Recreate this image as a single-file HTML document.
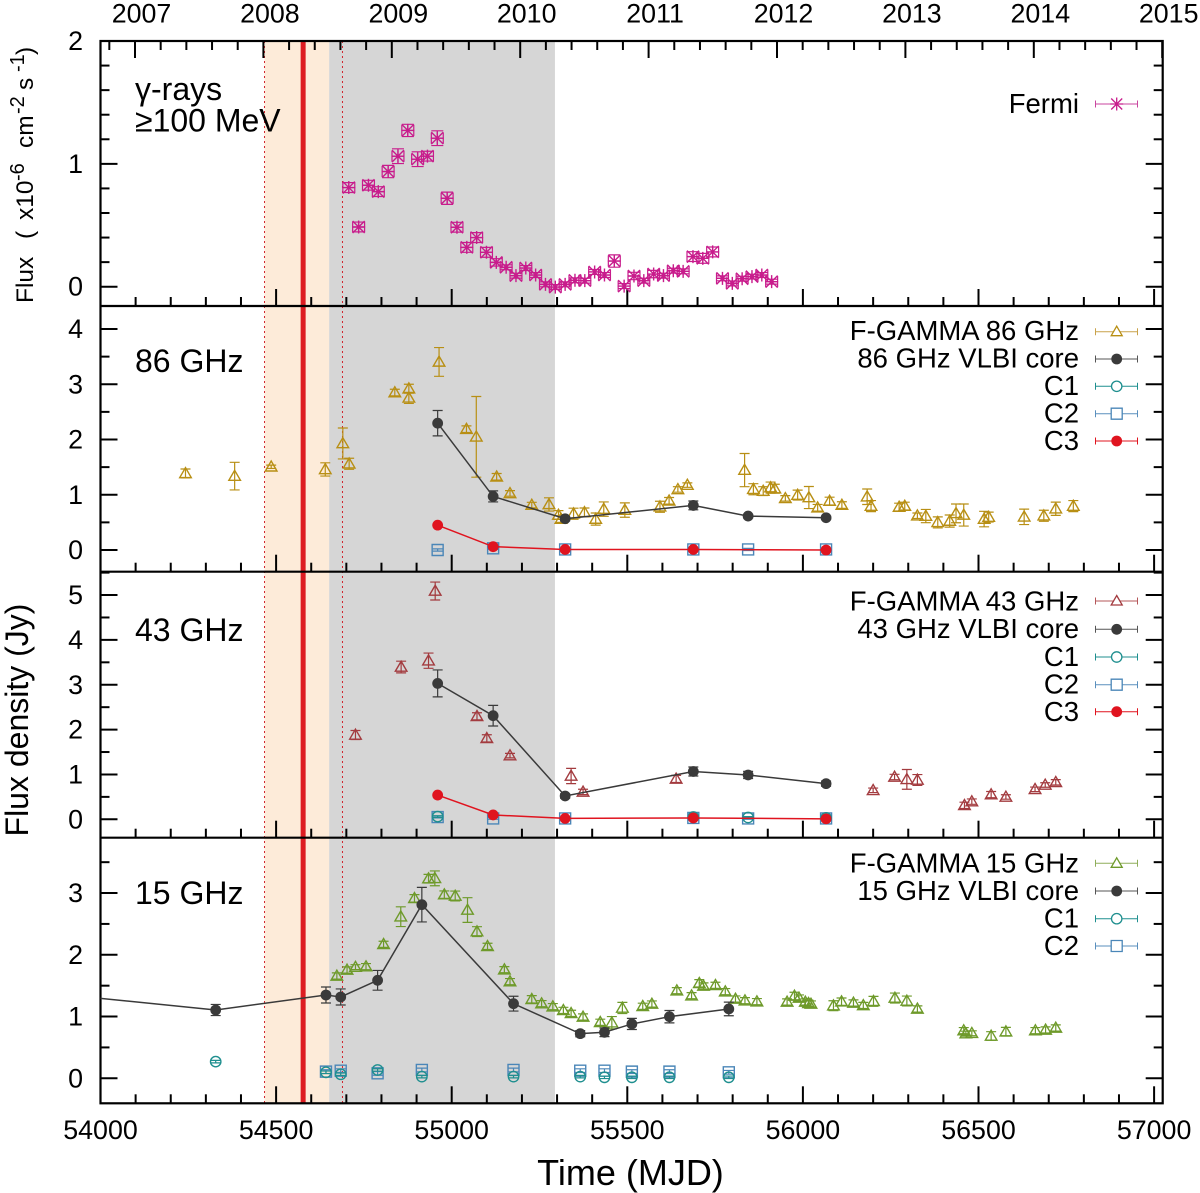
<!DOCTYPE html>
<html lang="en">
<head>
<meta charset="utf-8">
<title>Multi-band flux light curves</title>
<style>
html,body{margin:0;padding:0;background:#fff;}
svg{display:block;}
text{font-family:"Liberation Sans",sans-serif;fill:#000;}
.tick{font-size:26.8px;}
.lg{font-size:27.5px;text-anchor:end;}
.pl{font-size:32px;}
</style>
</head>
<body>
<svg id="chart" xmlns="http://www.w3.org/2000/svg" width="1200" height="1193" viewBox="0 0 1200 1193">
<rect x="0" y="0" width="1200" height="1193" fill="#fff"/>
<g id="layer-bands"></g>
<g id="layer-axes"></g>
<g id="layer-data"></g>

<text transform="translate(33 303) rotate(-90)" font-size="24.5"><tspan x="0" y="0">Flux</tspan><tspan x="64" y="0">(</tspan><tspan x="83" y="0">x10</tspan><tspan x="122" y="-9" font-size="20">-6</tspan><tspan x="155" y="0">cm</tspan><tspan x="189" y="-9" font-size="20">-2</tspan><tspan x="213" y="0">s</tspan><tspan x="231" y="-9" font-size="20">-1</tspan><tspan x="248" y="0">)</tspan></text>
<text transform="translate(28 720) rotate(-90)" font-size="32" text-anchor="middle">Flux density (Jy)</text>
<text x="630.5" y="1185" font-size="36" text-anchor="middle">Time (MJD)</text>

<g>
<text class="pl" x="135" y="100">γ-rays</text>
<text class="pl" x="135" y="131.5">≥100 MeV</text>
<text class="pl" x="135" y="372">86 GHz</text>
<text class="pl" x="135" y="641">43 GHz</text>
<text class="pl" x="135" y="904">15 GHz</text>
</g>

<g>
<g><text class="lg" x="1079" y="113">Fermi</text><path d="M1095.5 104H1137.5M1095.5 100.5V107.5M1137.5 100.5V107.5" stroke="#c9469f" fill="none"/><path transform="translate(1116.7 104)" d="M-5.5 -5.5L5.5 5.5M-5.5 5.5L5.5 -5.5M-6.5 0H6.5M0 -6.5V6.5" stroke="#c81c8c" stroke-width="1.3" fill="none"/></g>
</g>

<g>
<g><text class="lg" x="1079" y="340">F-GAMMA 86 GHz</text><path d="M1095.5 331.7H1137.5M1095.5 328.2V335.2M1137.5 328.2V335.2" stroke="#c9a24a" fill="none"/><path transform="translate(1116.7 331.7)" d="M0 -5.5L5.5 4H-5.5Z" stroke="#b88f14" stroke-width="1.3" fill="#fff"/></g>
<g><text class="lg" x="1079" y="367.5">86 GHz VLBI core</text><path d="M1095.5 359H1137.5M1095.5 355.5V362.5M1137.5 355.5V362.5" stroke="#555" fill="none"/><circle cx="1116.7" cy="359" r="5.4" fill="#3a3a3a"/></g>
<g><text class="lg" x="1079" y="395">C1</text><path d="M1095.5 386.3H1137.5M1095.5 382.8V389.8M1137.5 382.8V389.8" stroke="#1f8f8f" fill="none"/><circle cx="1116.7" cy="386.3" r="5.2" fill="#fff" stroke="#1f8f8f" stroke-width="1.3"/></g>
<g><text class="lg" x="1079" y="422.5">C2</text><path d="M1095.5 413.7H1137.5M1095.5 410.2V417.2M1137.5 410.2V417.2" stroke="#5a8fbd" fill="none"/><path transform="translate(1116.7 413.7)" d="M-5.5 -5.5H5.5V5.5H-5.5Z" fill="#fff" stroke="#4a86b8" stroke-width="1.3"/></g>
<g><text class="lg" x="1079" y="450">C3</text><path d="M1095.5 441H1137.5M1095.5 437.5V444.5M1137.5 437.5V444.5" stroke="#e0141f" fill="none"/><circle cx="1116.7" cy="441" r="5.4" fill="#e0141f"/></g>
</g>

<g>
<g><text class="lg" x="1079" y="610.5">F-GAMMA 43 GHz</text><path d="M1095.5 601H1137.5M1095.5 597.5V604.5M1137.5 597.5V604.5" stroke="#b5575a" fill="none"/><path transform="translate(1116.7 601)" d="M0 -5.5L5.5 4H-5.5Z" stroke="#a33b3f" stroke-width="1.3" fill="#fff"/></g>
<g><text class="lg" x="1079" y="638">43 GHz VLBI core</text><path d="M1095.5 629.3H1137.5M1095.5 625.8V632.8M1137.5 625.8V632.8" stroke="#555" fill="none"/><circle cx="1116.7" cy="629.3" r="5.4" fill="#3a3a3a"/></g>
<g><text class="lg" x="1079" y="666">C1</text><path d="M1095.5 657H1137.5M1095.5 653.5V660.5M1137.5 653.5V660.5" stroke="#1f8f8f" fill="none"/><circle cx="1116.7" cy="657" r="5.2" fill="#fff" stroke="#1f8f8f" stroke-width="1.3"/></g>
<g><text class="lg" x="1079" y="693.5">C2</text><path d="M1095.5 684.7H1137.5M1095.5 681.2V688.2M1137.5 681.2V688.2" stroke="#5a8fbd" fill="none"/><path transform="translate(1116.7 684.7)" d="M-5.5 -5.5H5.5V5.5H-5.5Z" fill="#fff" stroke="#4a86b8" stroke-width="1.3"/></g>
<g><text class="lg" x="1079" y="721">C3</text><path d="M1095.5 711.7H1137.5M1095.5 708.2V715.2M1137.5 708.2V715.2" stroke="#e0141f" fill="none"/><circle cx="1116.7" cy="711.7" r="5.4" fill="#e0141f"/></g>
</g>

<g>
<g><text class="lg" x="1079" y="872.5">F-GAMMA 15 GHz</text><path d="M1095.5 863.3H1137.5M1095.5 859.8V866.8M1137.5 859.8V866.8" stroke="#8fae5a" fill="none"/><path transform="translate(1116.7 863.3)" d="M0 -5.5L5.5 4H-5.5Z" stroke="#6e9a2a" stroke-width="1.3" fill="#fff"/></g>
<g><text class="lg" x="1079" y="900">15 GHz VLBI core</text><path d="M1095.5 891H1137.5M1095.5 887.5V894.5M1137.5 887.5V894.5" stroke="#555" fill="none"/><circle cx="1116.7" cy="891" r="5.4" fill="#3a3a3a"/></g>
<g><text class="lg" x="1079" y="927.5">C1</text><path d="M1095.5 918.7H1137.5M1095.5 915.2V922.2M1137.5 915.2V922.2" stroke="#1f8f8f" fill="none"/><circle cx="1116.7" cy="918.7" r="5.2" fill="#fff" stroke="#1f8f8f" stroke-width="1.3"/></g>
<g><text class="lg" x="1079" y="955">C2</text><path d="M1095.5 946H1137.5M1095.5 942.5V949.5M1137.5 942.5V949.5" stroke="#5a8fbd" fill="none"/><path transform="translate(1116.7 946)" d="M-5.5 -5.5H5.5V5.5H-5.5Z" fill="#fff" stroke="#4a86b8" stroke-width="1.3"/></g>
</g>
</svg>

<script>
// ---------- tick labels ----------
const mjdTickLabels = [54000, 54500, 55000, 55500, 56000, 56500, 57000];
const yearTickLabels = [2007, 2008, 2009, 2010, 2011, 2012, 2013, 2014, 2015];
const gammaTickLabels = [0, 1, 2];
const flux86TickLabels = [0, 1, 2, 3, 4];
const flux43TickLabels = [0, 1, 2, 3, 4, 5];
const flux15TickLabels = [0, 1, 2, 3];

// ---------- epochs (MJD) ----------
const flareStartMjd = 54467;
const radioPeakStartMjd = 54651;
const gammaFlareEndMjd = 55294;
const ejectionMjd = 54577;
const ejectionLimitMjd = 54689;

// ---------- Fermi ----------
const fermiMjd = [54707,54735,54763,54791,54819,54847,54875,54903,54931,54959,54987,55015,55043,55071,55099,55127,55155,55183,55211,55239,55267,55295,55323,55351,55379,55407,55435,55463,55491,55519,55547,55575,55603,55631,55659,55687,55715,55743,55771,55799,55827,55855,55883,55911];
const fermiFlux = [0.807,0.486,0.826,0.774,0.9375,1.0625,1.272,1.038,1.0625,1.209,0.72,0.484,0.32,0.40,0.28,0.198,0.158,0.09,0.152,0.095,0.019,-0.003,0.019,0.052,0.049,0.12,0.095,0.209,0.005,0.087,0.049,0.103,0.09,0.13,0.125,0.245,0.231,0.283,0.068,0.027,0.065,0.082,0.095,0.041];
const fermiErr = [0.04,0.04,0.04,0.04,0.05,0.06,0.05,0.06,0.04,0.06,0.05,0.04,0.04,0.04,0.04,0.03,0.02,0.02,0.02,0.02,0.02,0.02,0.02,0.02,0.02,0.02,0.02,0.05,0.02,0.03,0.02,0.03,0.02,0.02,0.02,0.04,0.04,0.04,0.02,0.02,0.02,0.02,0.02,0.02];
const fermiBinDays = 17;

// ---------- 86 GHz ----------
const fgamma86Mjd = [54242,54382,54486,54640,54690,54708,54838,54878,54878,54964,55042,55070,55128,55166,55228,55277,55304,55311,55347,55378,55410,55433,55493,55593,55619,55644,55671,55834,55859,55887,55908,55920,55950,55985,56017,56042,56076,56111,56183,56194,56274,56290,56326,56350,56384,56418,56436,56458,56516,56529,56630,56686,56720,56770];
const fgamma86Flux = [1.386,1.337,1.506,1.458,1.928,1.56,2.85,2.92,2.753,3.404,2.187,2.048,1.325,1.024,0.813,0.825,0.633,0.56,0.657,0.68,0.56,0.74,0.723,0.783,0.89,1.096,1.175,1.446,1.10,1.066,1.13,1.11,0.934,0.994,0.95,0.765,0.886,0.813,0.964,0.795,0.777,0.795,0.62,0.614,0.5,0.524,0.663,0.633,0.56,0.596,0.6,0.62,0.747,0.795];
const fgamma86Err = [0.08,0.25,0.03,0.12,0.28,0.1,0.06,0.08,0.1,0.26,0.06,0.73,0.06,0.05,0.05,0.12,0.08,0.06,0.1,0.08,0.11,0.13,0.13,0.1,0.06,0.05,0.04,0.3,0.1,0.08,0.1,0.08,0.05,0.09,0.2,0.06,0.07,0.06,0.14,0.1,0.07,0.07,0.05,0.12,0.1,0.11,0.17,0.2,0.14,0.09,0.14,0.1,0.12,0.1];
const core86Mjd = [54960,55118,55323,55688,55844,56066];
const core86Flux = [2.295,0.97,0.566,0.807,0.614,0.584];
const core86Err = [0.23,0.1,0.04,0.08,0.03,0.03];
const c286Mjd = [54960,55118,55323,55688,55844,56066];
const c286Flux = [0.0,0.03,0.01,0.01,0.01,0.01];
const c286Err = [0.02,0.02,0.02,0.02,0.02,0.02];
const c386Mjd = [54960,55118,55323,55688,56066];
const c386Flux = [0.45,0.06,0.01,0.01,0.0];
const c386Err = [0.01,0.01,0.01,0.01,0.01];

// ---------- 43 GHz ----------
const fgamma43Mjd = [54726,54856,54934,54953,55072,55100,55166,55340,55374,55639,56200,56261,56296,56326,56460,56481,56536,56578,56661,56690,56720];
const fgamma43Flux = [1.88,3.395,3.536,5.09,2.296,1.805,1.42,0.966,0.61,0.9,0.646,0.943,0.89,0.877,0.312,0.394,0.55,0.498,0.669,0.765,0.825];
const fgamma43Err = [0.1,0.13,0.17,0.2,0.08,0.08,0.05,0.17,0.06,0.08,0.05,0.06,0.22,0.12,0.07,0.06,0.07,0.05,0.05,0.05,0.06];
const core43Mjd = [54960,55118,55323,55688,55844,56066];
const core43Flux = [3.03,2.31,0.52,1.066,0.988,0.795];
const core43Err = [0.3,0.23,0.05,0.1,0.08,0.06];
const c143Mjd = [54960,55688,55844,56066];
const c143Flux = [0.06,0.05,0.04,0.03];
const c143Err = [0.02,0.02,0.02,0.02];
const c243Mjd = [54960,55118,55323,55688,55844,56066];
const c243Flux = [0.05,0.02,0.02,0.03,0.02,0.02];
const c243Err = [0.02,0.02,0.02,0.02,0.02,0.02];
const c343Mjd = [54960,55118,55323,55688,56066];
const c343Flux = [0.54,0.097,0.02,0.03,0.01];
const c343Err = [0.01,0.01,0.01,0.01,0.01];

// ---------- 15 GHz ----------
const fgamma15Mjd = [54673,54702,54726,54756,54806,54855,54894,54934,54952,54979,55010,55045,55072,55102,55150,55166,55228,55256,55288,55318,55340,55374,55423,55456,55486,55544,55570,55641,55683,55705,55717,55751,55779,55808,55835,55869,55955,55976,55989,56007,56016,56023,56087,56110,56144,56172,56201,56262,56296,56326,56458,56464,56481,56536,56578,56662,56691,56720];
const fgamma15Flux = [1.657,1.754,1.80,1.808,2.17,2.617,2.914,3.233,3.238,2.974,2.952,2.725,2.375,2.137,1.759,1.565,1.279,1.209,1.16,1.10,1.052,0.993,0.907,0.90,1.139,1.166,1.203,1.419,1.338,1.538,1.495,1.506,1.403,1.284,1.257,1.241,1.236,1.333,1.30,1.236,1.214,1.203,1.176,1.241,1.22,1.18,1.247,1.30,1.252,1.123,0.772,0.723,0.729,0.685,0.755,0.772,0.783,0.815];
const fgamma15Err = [0.05,0.05,0.04,0.05,0.05,0.16,0.06,0.07,0.12,0.06,0.08,0.2,0.08,0.05,0.05,0.05,0.06,0.05,0.05,0.05,0.05,0.05,0.05,0.1,0.09,0.05,0.05,0.05,0.05,0.06,0.05,0.05,0.05,0.05,0.05,0.05,0.05,0.06,0.05,0.05,0.05,0.05,0.08,0.06,0.05,0.05,0.08,0.08,0.08,0.05,0.05,0.04,0.04,0.07,0.07,0.05,0.05,0.05];
const core15Mjd = [53800,54328,54642,54684,54789,54915,55176,55366,55435,55513,55620,55789];
const core15Flux = [1.41,1.106,1.349,1.317,1.587,2.812,1.209,0.723,0.745,0.88,0.998,1.123];
const core15Err = [0.1,0.09,0.13,0.13,0.16,0.28,0.12,0.05,0.07,0.09,0.1,0.11];
const c115Mjd = [54328,54642,54684,54789,54915,55176,55366,55435,55513,55620,55789];
const c115Flux = [0.27,0.097,0.065,0.135,0.027,0.027,0.027,0.016,0.016,0.016,0.016];
const c115Err = [0.02,0.02,0.02,0.02,0.02,0.02,0.02,0.02,0.02,0.02,0.02];
const c215Mjd = [54642,54684,54789,54915,55176,55366,55435,55513,55620,55789];
const c215Flux = [0.108,0.124,0.08,0.135,0.135,0.124,0.124,0.108,0.108,0.097];
const c215Err = [0.03,0.03,0.03,0.03,0.03,0.03,0.03,0.03,0.03,0.03];

// ---------- axis functions ----------
const SVGNS = 'http://www.w3.org/2000/svg';
const plotLeft = 100.5, plotRight = 1162.7, plotTop = 41, plotBottom = 1103.3;
function xScale(mjd) { return plotLeft + (mjd - 54000) * 0.3512; }
function yearScale(yr) { return 135 + (yr - 2007) * 128.4; }
const panels = {
  gamma: { top: 41, bottom: 306, zero: 286.7, unit: 122.85, minor: 0.2, labels: gammaTickLabels, id: 'gamma' },
  f86: { top: 306, bottom: 571.7, zero: 550, unit: 55.25, minor: 0.5, labels: flux86TickLabels, id: 'f86' },
  f43: { top: 571.7, bottom: 837.7, zero: 819.3, unit: 44.85, minor: 0.5, labels: flux43TickLabels, id: 'f43' },
  f15: { top: 837.7, bottom: 1103.3, zero: 1078.3, unit: 61.75, minor: 0.5, labels: flux15TickLabels, id: 'f15' }
};
function yScale(panel, v) { return panel.zero - v * panel.unit; }

function make(tag, parent, attrs) {
  const node = document.createElementNS(SVGNS, tag);
  for (const k in attrs) node.setAttribute(k, attrs[k]);
  parent.appendChild(node);
  return node;
}

const chart = document.getElementById('chart');
const bandLayer = document.getElementById('layer-bands');
const axisLayer = document.getElementById('layer-axes');
const dataLayer = document.getElementById('layer-data');
const defs = make('defs', chart, {});
Object.values(panels).forEach(function (p) {
  const clip = make('clipPath', defs, { id: 'clip-' + p.id });
  make('rect', clip, { x: plotLeft, y: p.top, width: plotRight - plotLeft, height: p.bottom - p.top });
});

// ---------- bands ----------
function drawBand(name, x0, x1, fill) {
  const r = make('rect', bandLayer, { x: x0, y: plotTop, width: x1 - x0, height: plotBottom - plotTop, fill: fill });
  
  
}
function drawVLine(name, x, color, width, dash) {
  const l = make('line', bandLayer, { x1: x, x2: x, y1: plotTop, y2: plotBottom, stroke: color, 'stroke-width': width });
  if (dash) l.setAttribute('stroke-dasharray', dash);
  
  
}
drawBand('orange-band', xScale(flareStartMjd), xScale(radioPeakStartMjd), '#fdebd9');
drawBand('gray-band', xScale(radioPeakStartMjd), xScale(gammaFlareEndMjd), '#d6d6d6');
drawVLine('ejection-line', xScale(ejectionMjd), '#dd1c22', 5, null);
drawVLine('ejection-lower-limit', xScale(flareStartMjd), '#d0242c', 1, '2 3');
drawVLine('ejection-upper-limit', xScale(ejectionLimitMjd), '#d0242c', 1, '2 3');

// ---------- axes ----------
function drawTick(name, x1, y1, x2, y2) {
  const t = make('line', axisLayer, { x1: x1, y1: y1, x2: x2, y2: y2, stroke: '#000', 'stroke-width': 2 });
  
  
}
function drawLabel(name, x, y, text, anchor) {
  const t = make('text', axisLayer, { x: x, y: y, 'text-anchor': anchor, class: 'tick' });
  t.textContent = text;
  
  
}
Object.values(panels).forEach(function (p) {
  // bottom MJD ticks
  for (let m = 54000; m <= 57000; m += 100) {
    const x = xScale(m);
    const major = (m % 500 === 0);
    drawTick('x-tick-' + p.id, x, p.bottom, x, p.bottom - (major ? 17 : 9));
  }
  // y ticks, left and right
  const maxV = (p.zero - p.top) / p.unit;
  const minV = (p.zero - p.bottom) / p.unit;
  const nSteps = Math.ceil(maxV / p.minor) + Math.ceil(-minV / p.minor);
  for (let i = -Math.ceil(-minV / p.minor); i <= nSteps; i++) {
    const v = i * p.minor;
    const y = yScale(p, v);
    if (y < p.top - 0.5 || y > p.bottom - 1) continue;
    const major = Math.abs(v - Math.round(v)) < 1e-6;
    const len = major ? 17 : 9;
    drawTick('y-tick-' + p.id, plotLeft, y, plotLeft + len, y);
    drawTick('y-tick-right-' + p.id, plotRight, y, plotRight - len, y);
  }
  p.labels.forEach(function (v) {
    drawLabel('y-tick-label-' + p.id, 83, yScale(p, v) + 9, String(v), 'end');
  });
});
// year ticks (top axis)
for (let i = -1; i <= 40; i++) {
  const yr = 2007 + i * 0.2;
  const x = yearScale(yr);
  if (x < plotLeft || x > plotRight) continue;
  drawTick('year-tick', x, plotTop, x, plotTop + (i % 5 === 0 ? 17 : 9));
}
yearTickLabels.forEach(function (yr) {
  drawLabel('year-tick-label', yearScale(yr) + 6.5, 22.5, String(yr), 'middle');
});
mjdTickLabels.forEach(function (m) {
  drawLabel('x-tick-label', xScale(m), 1139, String(m), 'middle');
});
// frames
const frame = make('rect', axisLayer, { x: plotLeft, y: plotTop, width: plotRight - plotLeft, height: plotBottom - plotTop, fill: 'none', stroke: '#000', 'stroke-width': 2.2 });


[panels.gamma, panels.f86, panels.f43].forEach(function (p) {
  const sep = make('line', axisLayer, { x1: plotLeft, x2: plotRight, y1: p.bottom, y2: p.bottom, stroke: '#000', 'stroke-width': 2.2 });
  
  
});

// ---------- series ----------
const markerPaths = {
  tri: 'M0 -5.8L5.8 4.2H-5.8Z',
  square: 'M-5.5 -5.5H5.5V5.5H-5.5Z',
  star: 'M-6 -6L6 6M-6 6L6 -6M-6.5 0H6.5M0 -6.5V6.5'
};
function drawConnect(panel, name, mjd, val, color) {
  const pts = mjd.map(function (m, i) { return xScale(m) + ',' + yScale(panel, val[i]); }).join(' ');
  const line = make('polyline', dataLayer, { points: pts, fill: 'none', stroke: color, 'stroke-width': 1.5, 'clip-path': 'url(#clip-' + panel.id + ')' });
  
  
}
function drawPoints(panel, name, mjd, val, err, color, shape, binDays) {
  const group = make('g', dataLayer, { 'clip-path': 'url(#clip-' + panel.id + ')' });
  
  
  mjd.forEach(function (m, i) {
    const x = xScale(m);
    const y = yScale(panel, val[i]);
    const yHi = yScale(panel, val[i] + err[i]);
    const yLo = yScale(panel, val[i] - err[i]);
    const capW = binDays ? 6 : 5;
    let d = 'M' + x + ' ' + yLo + 'V' + yHi +
      'M' + (x - capW) + ' ' + yLo + 'H' + (x + capW) +
      'M' + (x - capW) + ' ' + yHi + 'H' + (x + capW);
    if (binDays) {
      const xL = xScale(m - binDays);
      const xR = xScale(m + binDays);
      d += 'M' + xL + ' ' + y + 'H' + xR +
        'M' + xL + ' ' + (y - 5.5) + 'V' + (y + 5.5) +
        'M' + xR + ' ' + (y - 5.5) + 'V' + (y + 5.5);
    }
    const point = make('g', group, {});
    
    
    const bar = make('path', point, { d: d, fill: 'none', stroke: color, 'stroke-width': 1.2 });
    
    
    let marker;
    if (shape === 'dot') {
      marker = make('circle', point, { cx: x, cy: y, r: 5.4, fill: color });
    } else if (shape === 'ring') {
      marker = make('circle', point, { cx: x, cy: y, r: 5.2, fill: 'none', stroke: color, 'stroke-width': 1.4 });
    } else {
      marker = make('path', point, { d: markerPaths[shape], transform: 'translate(' + x + ' ' + y + ')', fill: 'none', stroke: color, 'stroke-width': 1.4 });
    }
    
    
  });
}

const GOLD = '#b88f14', BROWN = '#a33b3f', GREEN = '#6e9a2a', DARK = '#3a3a3a', TEAL = '#1f8f8f', BLUE = '#4a86b8', RED = '#e0141f', MAGENTA = '#c81c8c';

drawPoints(panels.gamma, 'fermi-series', fermiMjd, fermiFlux, fermiErr, MAGENTA, 'star', fermiBinDays);

drawPoints(panels.f86, 'fgamma-86-series', fgamma86Mjd, fgamma86Flux, fgamma86Err, GOLD, 'tri');
drawConnect(panels.f86, 'core-86-line', core86Mjd, core86Flux, DARK);
drawPoints(panels.f86, 'core-86-series', core86Mjd, core86Flux, core86Err, DARK, 'dot');
drawPoints(panels.f86, 'c2-86-series', c286Mjd, c286Flux, c286Err, BLUE, 'square');
drawConnect(panels.f86, 'c3-86-line', c386Mjd, c386Flux, RED);
drawPoints(panels.f86, 'c3-86-series', c386Mjd, c386Flux, c386Err, RED, 'dot');

drawPoints(panels.f43, 'fgamma-43-series', fgamma43Mjd, fgamma43Flux, fgamma43Err, BROWN, 'tri');
drawConnect(panels.f43, 'core-43-line', core43Mjd, core43Flux, DARK);
drawPoints(panels.f43, 'core-43-series', core43Mjd, core43Flux, core43Err, DARK, 'dot');
drawPoints(panels.f43, 'c2-43-series', c243Mjd, c243Flux, c243Err, BLUE, 'square');
drawPoints(panels.f43, 'c1-43-series', c143Mjd, c143Flux, c143Err, TEAL, 'ring');
drawConnect(panels.f43, 'c3-43-line', c343Mjd, c343Flux, RED);
drawPoints(panels.f43, 'c3-43-series', c343Mjd, c343Flux, c343Err, RED, 'dot');

drawPoints(panels.f15, 'fgamma-15-series', fgamma15Mjd, fgamma15Flux, fgamma15Err, GREEN, 'tri');
drawConnect(panels.f15, 'core-15-line', core15Mjd, core15Flux, DARK);
drawPoints(panels.f15, 'core-15-series', core15Mjd, core15Flux, core15Err, DARK, 'dot');
drawPoints(panels.f15, 'c2-15-series', c215Mjd, c215Flux, c215Err, BLUE, 'square');
drawPoints(panels.f15, 'c1-15-series', c115Mjd, c115Flux, c115Err, TEAL, 'ring');
</script>
</body>
</html>
